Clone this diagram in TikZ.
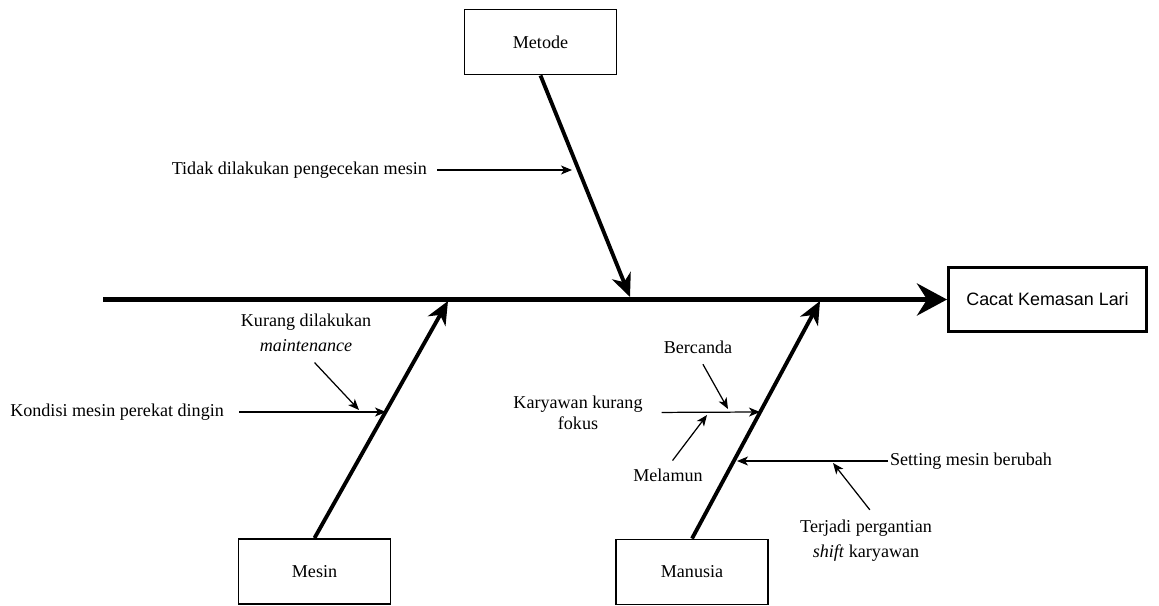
\documentclass[tikz,border=0pt]{standalone}
\usepackage{fontspec}
\setmainfont{Liberation Serif}
\newfontfamily\arialfont{Liberation Sans}
\usetikzlibrary{arrows.meta}

\tikzset{
  catbox/.style={draw, line width=1.1pt, minimum width=3.04cm, minimum height=1.3cm,
    font=\fontsize{10.3}{14}\selectfont},
  effbox/.style={draw, line width=1.7pt, minimum width=3.96cm, minimum height=1.27cm,
    font=\arialfont\fontsize{10.2}{12}\selectfont},
  lbl/.style={inner sep=1pt, align=center, font=\fontsize{10.3}{14.2}\selectfont},
  spine/.style={line width=2.9pt, -{Stealth[length=0.6cm, width=0.64cm, inset=0.2cm]}},
  bone/.style={line width=2.2pt, -{Stealth[length=0.46cm, width=0.4cm, inset=0.14cm]}},
  cause/.style={line width=0.7pt, -{Stealth[length=0.22cm, width=0.18cm, inset=0.06cm]}},
}

\begin{document}
\begin{tikzpicture}[x=0.02cm, y=-0.02cm]
\useasboundingbox (0,0) rectangle (1159,605);

% kepala dan kategori
\node[effbox] (cacat) at (1047.5,299.5) {Cacat Kemasan Lari};
\node[catbox] (metode) at (540.5,42) {Metode};
\node[catbox] (mesin) at (314.5,571.5) {Mesin};
\node[catbox] (manusia) at (692,572) {Manusia};

% tulang utama
\coordinate (ekor) at (103,299.5);
\draw[spine] (ekor) -- (cacat.west);

\coordinate (tmetode) at (630,297);
\coordinate (tmesin) at (448,301);
\coordinate (tmanusia) at (820,301);
\draw[bone] (metode.south) -- (tmetode);
\draw[bone] (mesin.north) -- (tmesin);
\draw[bone] (manusia.north) -- (tmanusia);

% penyebab
\node[lbl, anchor=east] (tidak) at (429,170) {Tidak dilakukan pengecekan mesin};
\node[lbl, anchor=east] (kondisi) at (226,412) {Kondisi mesin perekat dingin};
\node[lbl] (kurang) at (306,332.5) {Kurang dilakukan\\\textit{maintenance}};
\node[lbl, font=\fontsize{10.3}{12}\selectfont] (karyawan) at (578,412.5) {Karyawan kurang\\fokus};
\node[lbl] (bercanda) at (698,347) {Bercanda};
\node[lbl] (melamun) at (668,475) {Melamun};
\node[lbl, anchor=west] (setting) at (888,461) {Setting mesin berubah};
\node[lbl] (terjadi) at (866,540.5) {Terjadi pergantian\\\textit{shift} karyawan};

\coordinate (ctidak) at (572,170);
\coordinate (ckondisi) at (386,412);
\coordinate (ckurang) at (359,410);
\coordinate (ckaryawan) at (760,412);
\coordinate (cbercanda) at (728,409);
\coordinate (cmelamun) at (707,415);
\coordinate (csetting) at (737,461);
\coordinate (cterjadi) at (833,463);

\draw[cause, shorten <=0.16cm] (tidak.east) -- (ctidak);
\draw[cause, shorten <=0.26cm] (kondisi.east) -- (ckondisi);
\draw[cause, shorten <=0.25cm] (kurang.south) -- (ckurang);
\draw[cause, shorten <=0.34cm] (karyawan.east) -- (ckaryawan);
\draw[cause, shorten <=0.2cm] (bercanda.south) -- (cbercanda);
\draw[cause, shorten <=0.15cm] (melamun.north) -- (cmelamun);
\draw[cause] (setting.west) -- (csetting);
\draw[cause, shorten <=0.2cm] ([xshift=0.2cm]terjadi.north) -- (cterjadi);
\end{tikzpicture}
\end{document}
